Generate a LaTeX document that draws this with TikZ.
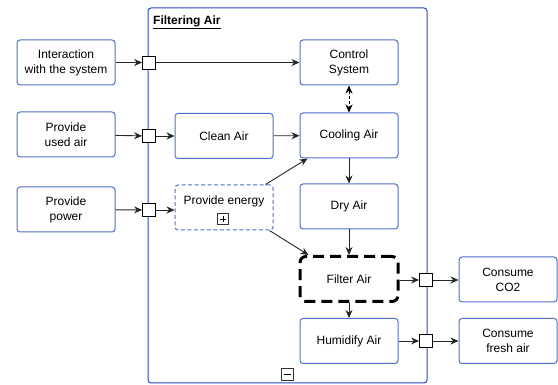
\documentclass[tikz,border=0pt]{standalone}
\usepackage{fontspec}
\setmainfont{Liberation Sans}
\usetikzlibrary{positioning, arrows.meta}
\definecolor{boxblue}{RGB}{80,112,200}
\definecolor{frameblue}{RGB}{40,70,205}

\begin{document}
\begin{tikzpicture}[x=1pt, y=-1pt,
  task/.style={rectangle, rounded corners=3pt, draw=boxblue, fill=white,
               line width=1pt, minimum width=98pt, minimum height=45pt,
               inner sep=1pt, align=center, font=\fontsize{12}{15}\selectfont},
  port/.style={rectangle, draw=black, fill=white, minimum size=13pt,
               inner sep=0pt, line width=0.8pt},
  toggle/.style={rectangle, draw=black!80, fill=white, minimum size=12pt,
                 inner sep=0pt, line width=0.8pt},
  arr/.style={-{Stealth[length=8pt, width=7pt]}, line width=0.9pt, draw=black!85}
]
  \useasboundingbox (0,0) rectangle (558,385);

  % container
  \draw[frameblue, line width=1pt, rounded corners=3pt] (148,8) rectangle (427,383);
  \node[anchor=west, inner sep=0pt, font=\fontsize{12}{14}\selectfont\bfseries]
    (title) at (153,22) {\underline{Filtering Air}};

  % outside
  \node[task] (inter) at (66,62.5) {Interaction\\with the system};
  \node[task] (used) at (66,134.5) {Provide\\used air};
  \node[task] (power) at (66,209.5) {Provide\\power};
  \node[task] (co2) at (508,279.5) {Consume\\CO2};
  \node[task] (fresh) at (508,341) {Consume\\fresh air};

  % inside
  \node[task] (ctrl) at (349,62.5) {Control\\System};
  \node[task] (clean) at (224,136) {Clean Air};
  \node[task] (cool) at (349,135.5) {Cooling Air};
  \node[task, dash pattern=on 4pt off 2.5pt, text depth=14pt]
    (energy) at (224,207.5) {Provide energy};
  \node[task] (dry) at (349,206.5) {Dry Air};
  \node[task, draw=black, line width=3pt, rounded corners=6pt,
        dash pattern=on 11pt off 6pt] (filter) at (349,279) {Filter Air};
  \node[task] (humid) at (349,341) {Humidify Air};

  % ports
  \node[port] (p1) at (149,62.5) {};
  \node[port] (p2) at (149,136) {};
  \node[port] (p3) at (149,210) {};
  \node[port] (p4) at (426,280) {};
  \node[port] (p5) at (426,341) {};

  % expand / collapse marks
  \node[toggle, minimum size=11pt] (plus) at (223,219) {};
  \draw ([xshift=-3pt]plus.center) -- ([xshift=3pt]plus.center)
        ([yshift=-3pt]plus.center) -- ([yshift=3pt]plus.center);
  \node[toggle] (minus) at (287,374) {};
  \draw ([xshift=-3.5pt]minus.center) -- ([xshift=3.5pt]minus.center);

  % flows
  \draw[arr] (inter) -- (p1);
  \draw[arr] (p1) -- (ctrl);
  \draw[arr] (used) -- (p2);
  \draw[arr] (p2) -- (clean);
  \draw[arr] (clean) -- (cool);
  \draw[arr] (power) -- (p3);
  \draw[arr] (p3) -- (energy.west |- p3);
  \draw[arr] ([xshift=-8pt]energy.north east) -- ([xshift=8pt]cool.south west);
  \draw[arr] ([xshift=-4pt]energy.south east) -- ([xshift=10pt]filter.north west);
  \draw[{Stealth[length=8pt, width=7pt]}-{Stealth[length=8pt, width=7pt]},
        line width=0.9pt, dash pattern=on 3pt off 2pt] (ctrl) -- (cool);
  \draw[arr] (cool) -- (dry);
  \draw[arr] (dry) -- (filter);
  \draw[arr] (filter) -- (humid);
  \draw[arr] (filter.east |- p4) -- (p4);
  \draw[arr] (p4) -- (co2.west |- p4);
  \draw[arr] (humid) -- (p5);
  \draw[arr] (p5) -- (fresh);
\end{tikzpicture}
\end{document}
